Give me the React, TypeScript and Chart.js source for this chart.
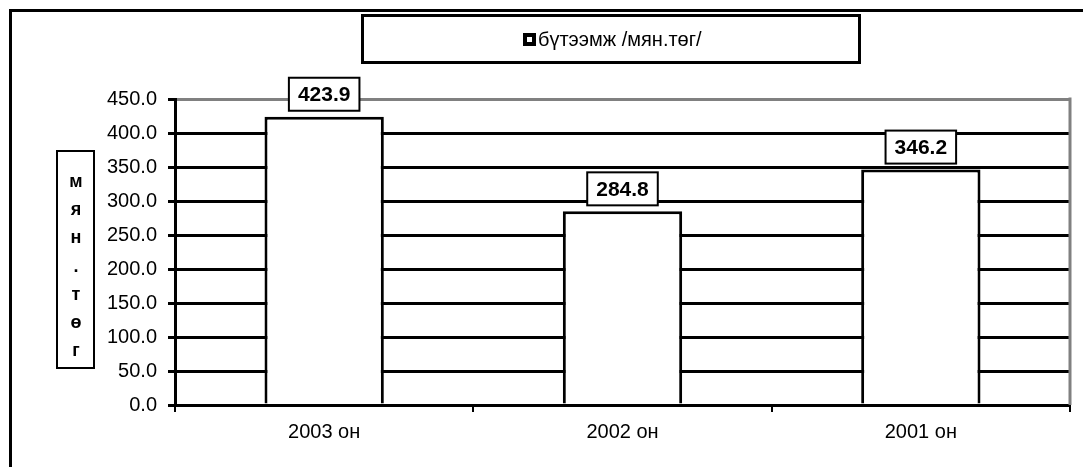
import React, { useEffect, useRef } from "react";
import { Chart, registerables } from "chart.js";

Chart.register(...registerables);

const categories = ["2003 он", "2002 он", "2001 он"];
const productivity = [423.9, 284.8, 346.2];
const seriesName = "бүтээмж /мян.төг/";
const yTitleLetters = ["м", "я", "н", ".", "т", "ө", "г"];
const yMin = 0;
const yMax = 450;
const yStep = 50;

const FONT = '"Liberation Sans", Arial, sans-serif';

const decorPlugin = {
  id: "decor",
  afterDraw(chart: any) {
    const ctx = chart.ctx;
    const ca = chart.chartArea;
    ctx.save();
    // outer border (left & top visible)
    ctx.strokeStyle = "#000";
    ctx.lineWidth = 3;
    ctx.strokeRect(10.5, 10.5, 1200, 600);

    // plot right border (gray)
    ctx.strokeStyle = "#808080";
    ctx.lineWidth = 3;
    ctx.beginPath();
    ctx.moveTo(ca.right, ca.top - 1.5);
    ctx.lineTo(ca.right, ca.bottom);
    ctx.stroke();

    // legend box
    ctx.fillStyle = "#fff";
    ctx.fillRect(362, 15, 498, 48);
    ctx.strokeStyle = "#000";
    ctx.lineWidth = 3;
    ctx.strokeRect(362.5, 15.5, 497, 47);
    ctx.lineWidth = 4;
    ctx.strokeRect(525, 35, 9, 9);
    ctx.fillStyle = "#000";
    ctx.font = `20px ${FONT}`;
    ctx.textAlign = "left";
    ctx.textBaseline = "middle";
    ctx.fillText(seriesName, 538, 40);

    // y title box
    ctx.lineWidth = 2;
    ctx.strokeRect(57, 151, 37, 217);
    ctx.font = `bold 18px ${FONT}`;
    ctx.textAlign = "center";
    yTitleLetters.forEach((ch, i) => {
      ctx.fillText(ch, 76, 182 + i * 28.2);
    });

    // data labels
    const meta = chart.getDatasetMeta(0);
    ctx.font = `bold 21px ${FONT}`;
    meta.data.forEach((bar: any, i: number) => {
      const txt = productivity[i].toFixed(1);
      const w = ctx.measureText(txt).width + 18;
      const h = 33;
      const bottom = bar.y - 6;
      const left = bar.x - w / 2;
      ctx.fillStyle = "#fff";
      ctx.fillRect(left, bottom - h, w, h);
      ctx.strokeStyle = "#000";
      ctx.lineWidth = 2;
      ctx.strokeRect(left, bottom - h, w, h);
      ctx.fillStyle = "#000";
      ctx.textAlign = "center";
      ctx.textBaseline = "middle";
      ctx.fillText(txt, bar.x, bottom - h / 2 + 1);
    });
    ctx.restore();
  },
};

export default function App() {
  const ref = useRef<HTMLCanvasElement | null>(null);
  useEffect(() => {
    if (!ref.current) return;
    const chart = new Chart(ref.current, {
      type: "bar",
      data: {
        labels: categories,
        datasets: [
          {
            label: seriesName,
            data: productivity,
            backgroundColor: "#fff",
            borderColor: "#000",
            borderWidth: 3,
            barPercentage: 0.4,
            categoryPercentage: 1,
          },
        ],
      },
      options: {
        responsive: false,
        animation: false,
        devicePixelRatio: 1,
        layout: { padding: { left: 0, top: 99, right: 13, bottom: 0 } },
        plugins: {
          legend: { display: false },
          tooltip: { enabled: false },
          title: { display: false },
        },
        scales: {
          x: {
            offset: true,
            grid: {
              offset: true,
              drawOnChartArea: false,
              drawTicks: true,
              tickLength: 7,
              color: "#000",
              tickColor: "#000",
              lineWidth: 2,
            },
            border: { display: true, color: "#000", width: 3 },
            ticks: {
              color: "#000",
              font: { family: FONT, size: 20 },
              padding: 8,
              maxRotation: 0,
            },
            afterFit: (s: any) => {
              s.height = 62;
            },
          },
          y: {
            min: yMin,
            max: yMax,
            ticks: {
              stepSize: yStep,
              color: "#000",
              font: { family: FONT, size: 20 },
              padding: 11,
              callback: (v: any) => Number(v).toFixed(1),
            },
            grid: {
              color: (c: any) => (c.tick && c.tick.value === yMax ? "#808080" : "#000"),
              lineWidth: 3,
              tickColor: "#000",
              tickLength: 7,
            },
            border: { display: true, color: "#000", width: 3 },
            afterFit: (s: any) => {
              s.width = 175;
            },
          },
        },
      },
      plugins: [decorPlugin],
    });
    return () => chart.destroy();
  }, []);
  return (
    <div style={{ position: "absolute", left: 0, top: 0, width: 1083, height: 467, background: "#fff" }}>
      <canvas ref={ref} width={1083} height={467} style={{ display: "block" }} />
    </div>
  );
}
